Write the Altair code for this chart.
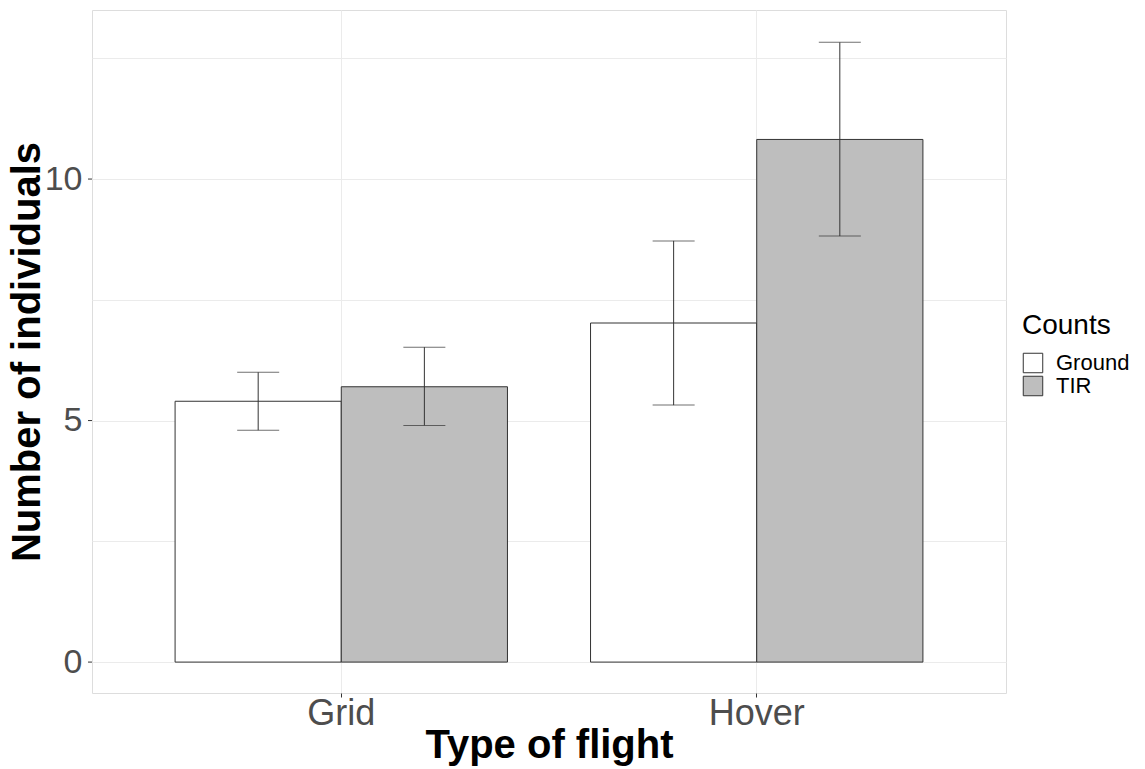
import altair as alt
import pandas as pd

flights = ["Grid", "Grid", "Hover", "Hover"]
counts = ["Ground", "TIR", "Ground", "TIR"]
means = [5.40, 5.70, 7.02, 10.82]
lows = [4.80, 4.90, 5.32, 8.82]
highs = [6.00, 6.52, 8.72, 12.83]

df = pd.DataFrame({"flight": flights, "counts": counts, "mean": means, "low": lows, "high": highs})

FONT = "Liberation Sans"
ydom = [-0.64, 13.5]

xenc = alt.X("flight:N", title="Type of flight",
             scale=alt.Scale(paddingInner=0.2, paddingOuter=0.2),
             axis=alt.Axis(labelAngle=0, labelFontSize=36, labelColor="#4D4D4D", labelFont=FONT,
                           titleFontSize=40, titleFont=FONT, titleFontWeight="bold", titleColor="#000000",
                           ticks=True, tickSize=4, tickColor="#333333", domain=False,
                           grid=True, gridColor="#EBEBEB", gridWidth=1,
                           bandPosition=0.5, labelPadding=-1,
                           titleBaseline="alphabetic", titleY=64))
yscale = alt.Scale(domain=ydom, nice=False, zero=False)
xoff = alt.XOffset("counts:N", scale=alt.Scale(paddingInner=0, paddingOuter=0))

bars = alt.Chart(df).mark_bar(stroke="#333333", strokeWidth=1).encode(
    x=xenc,
    xOffset=xoff,
    y=alt.Y("mean:Q", title="Number of individuals", scale=yscale,
            axis=alt.Axis(values=[0, 2.5, 5, 7.5, 10, 12.5],
                          labelExpr="datum.value % 5 == 0 ? datum.label : ''",
                          labelFontSize=34, labelColor="#4D4D4D", labelFont=FONT,
                          titleFontSize=40, titleFont=FONT, titleFontWeight="bold", titleColor="#000000",
                          ticks=False, domain=False, grid=True, gridColor="#EBEBEB", gridWidth=1,
                          labelPadding=10,
                          titleBaseline="alphabetic", titleX=-53)),
    y2=alt.datum(0),
    fill=alt.Fill("counts:N", title="Counts",
                  scale=alt.Scale(domain=["Ground", "TIR"], range=["#FFFFFF", "#BEBEBE"]),
                  legend=alt.Legend(orient="none", legendX=930, legendY=302,
                                    titleFontSize=28, titleFont=FONT, titleFontWeight="normal", titleColor="#000000",
                                    labelFontSize=22, labelFont=FONT, labelColor="#000000",
                                    symbolType="square", symbolSize=380, symbolStrokeColor="#333333",
                                    symbolStrokeWidth=1, rowPadding=-1, labelOffset=12, titlePadding=12,
                                    labelLimit=200)),
)

rules = alt.Chart(df).mark_rule(color="#333333", strokeWidth=1).encode(
    x=alt.X("flight:N"),
    xOffset=xoff,
    y=alt.Y("low:Q", scale=yscale),
    y2="high:Q",
)

caps_hi = alt.Chart(df).mark_tick(color="#333333", thickness=1, size=42, orient="horizontal").encode(
    x=alt.X("flight:N"),
    xOffset=xoff,
    y=alt.Y("high:Q", scale=yscale),
)
caps_lo = alt.Chart(df).mark_tick(color="#333333", thickness=1, size=42, orient="horizontal").encode(
    x=alt.X("flight:N"),
    xOffset=xoff,
    y=alt.Y("low:Q", scale=yscale),
)

ytick_vals = [0, 5, 10]
yticks = alt.Chart(pd.DataFrame({"v": ytick_vals})).mark_rule(color="#333333", strokeWidth=1).encode(
    x=alt.value(-4), x2=alt.value(0),
    y=alt.Y("v:Q", scale=yscale),
)

chart = alt.layer(bars, rules, caps_hi, caps_lo, yticks).properties(
    width=914, height=683,
    autosize=alt.AutoSizeParams(type="none"),
    padding={"left": 92, "top": 10, "right": 139, "bottom": 76},
).configure_view(stroke="#444444", strokeWidth=1).configure(background="white")

chart.save("out.html", embed_options={"renderer": "svg", "actions": False})
